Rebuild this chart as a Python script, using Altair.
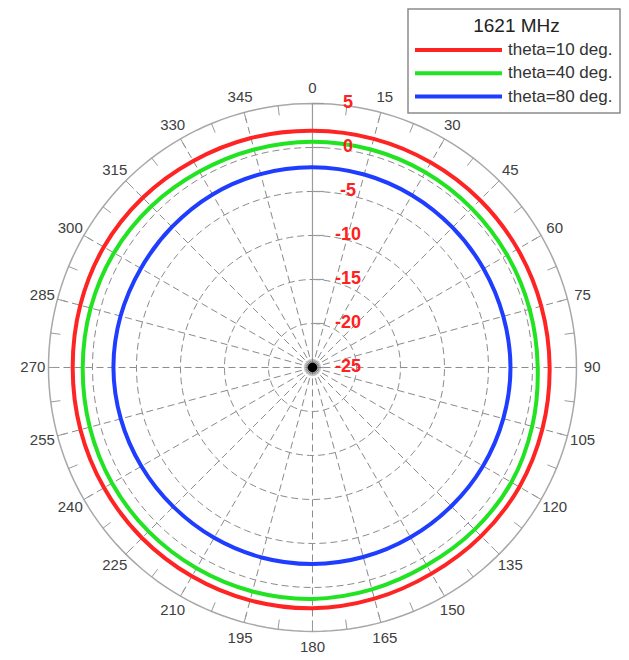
import altair as alt
import pandas as pd
import numpy as np

# ---------------- data ----------------
angles = [0, 15, 30, 45, 60, 75, 90, 105, 120, 135, 150, 165,
          180, 195, 210, 225, 240, 255, 270, 285, 300, 315, 330, 345]
red_db = [1.90, 1.90, 1.90, 1.92, 1.92, 1.92, 1.95, 2.05, 2.15, 2.10, 2.05, 2.20,
          2.36, 2.40, 2.40, 2.40, 2.35, 2.30, 2.25, 2.32, 2.38, 2.28, 2.10, 2.00]
green_db = [0.66, 0.65, 0.63, 0.58, 0.55, 0.55, 0.60, 0.85, 1.10, 1.05, 0.95, 1.10,
            1.30, 1.35, 1.35, 1.35, 1.30, 1.20, 1.11, 1.10, 1.05, 0.90, 0.70, 0.65]
blue_db = [-2.25, -2.30, -2.40, -2.50, -2.55, -2.55, -2.50, -2.55, -2.62, -2.70, -2.72, -2.70,
           -2.67, -2.65, -2.65, -2.63, -2.55, -2.45, -2.38, -2.42, -2.48, -2.42, -2.30, -2.25]
series_names = ["theta=10 deg.", "theta=40 deg.", "theta=80 deg."]
series_colors = ["#ff2424", "#22e322", "#1f3dff"]
legend_title = "1621 MHz"

r_min, r_max = -25, 5
ring_levels = [0, -5, -10, -15, -20]
radial_label_values = [5, 0, -5, -10, -15, -20, -25]
angle_label_values = list(range(0, 360, 15))

# ---------------- geometry helpers (scales only) ----------------
SPAN = r_max - r_min  # radial units from centre to outer ring
W, H = 613, 652
XMIN, XMAX = -34.60, 35.06
YMAX = 40.85
YMIN = YMAX - H / 8.8
FONT = "Liberation Sans"

xs = alt.Scale(domain=[XMIN, XMAX], nice=False, zero=False)
ys = alt.Scale(domain=[YMIN, YMAX], nice=False, zero=False)

def X(f, t="Q"):
    return alt.X(f"{f}:{t}", scale=xs, axis=None)

def Y(f, t="Q"):
    return alt.Y(f"{f}:{t}", scale=ys, axis=None)

# ---------------- tables ----------------
curves = pd.DataFrame({
    "series": np.repeat(series_names, len(angles)),
    "angle": angles * 3,
    "db": red_db + green_db + blue_db,
})

grid_angles = list(range(0, 361, 2))
rings = pd.DataFrame([(lv, a) for lv in ring_levels for a in grid_angles],
                     columns=["level", "angle"])
outer = pd.DataFrame({"angle": grid_angles, "level": r_max})
spokes = pd.DataFrame({"angle": list(range(15, 360, 15))})
outer_ticks = pd.DataFrame({"angle": list(np.arange(0, 360, 7.5))})
rad_ticks = pd.DataFrame({"level": radial_label_values})
rad_labels = pd.DataFrame({"level": radial_label_values,
                           "label": [str(v) for v in radial_label_values]})
ang_labels = pd.DataFrame({"angle": angle_label_values,
                           "label": [str(v) for v in angle_label_values]})
centre = pd.DataFrame({"x": [0.0], "y": [0.0]})

polar_x = f"(datum.level - ({r_min})) * sin(datum.angle * PI / 180)"
polar_y = f"(datum.level - ({r_min})) * cos(datum.angle * PI / 180)"

# dashed rings
ring_layer = alt.Chart(rings).transform_calculate(
    x=polar_x, y=polar_y
).mark_line(color="#8a8a8a", strokeWidth=1, strokeDash=[7, 4]).encode(
    x=X("x"), y=Y("y"), detail="level:N", order=alt.Order("angle:Q")
)

# dashed spokes
spoke_layer = alt.Chart(spokes).transform_calculate(
    x0="0", y0="0",
    x1=f"{SPAN} * sin(datum.angle * PI / 180)",
    y1=f"{SPAN} * cos(datum.angle * PI / 180)",
).mark_rule(color="#8a8a8a", strokeWidth=1, strokeDash=[7, 4]).encode(
    x=X("x0"), y=Y("y0"), x2="x1:Q", y2="y1:Q"
)

# outer ring
outer_layer = alt.Chart(outer).transform_calculate(
    x=polar_x, y=polar_y
).mark_line(color="#a8a8a8", strokeWidth=1.5).encode(
    x=X("x"), y=Y("y"), order=alt.Order("angle:Q")
)

# outer ring ticks
otick_layer = alt.Chart(outer_ticks).transform_calculate(
    x0=f"{SPAN} * sin(datum.angle * PI / 180)",
    y0=f"{SPAN} * cos(datum.angle * PI / 180)",
    x1=f"{SPAN - 1.1} * sin(datum.angle * PI / 180)",
    y1=f"{SPAN - 1.1} * cos(datum.angle * PI / 180)",
).mark_rule(color="#9a9a9a", strokeWidth=1).encode(
    x=X("x0"), y=Y("y0"), x2="x1:Q", y2="y1:Q"
)

# radial axis (solid vertical line at 0 deg) and its ticks
axis_layer = alt.Chart(centre).transform_calculate(
    x1="0", y1=f"{SPAN}"
).mark_rule(color="#9a9a9a", strokeWidth=1.2).encode(
    x=X("x"), y=Y("y"), x2="x1:Q", y2="y1:Q"
)
rtick_layer = alt.Chart(rad_ticks).transform_calculate(
    x0="0", x1="1.3", y0=f"datum.level - ({r_min})"
).mark_rule(color="#9a9a9a", strokeWidth=1.2).encode(
    x=X("x0"), y=Y("y0"), x2="x1:Q"
)

# data curves
curve_layer = alt.Chart(curves).transform_calculate(
    x=f"(datum.db - ({r_min})) * sin(datum.angle * PI / 180)",
    y=f"(datum.db - ({r_min})) * cos(datum.angle * PI / 180)",
).mark_line(strokeWidth=4, interpolate="cardinal-closed").encode(
    x=X("x"), y=Y("y"),
    color=alt.Color("series:N", scale=alt.Scale(domain=series_names, range=series_colors), legend=None),
    detail="series:N",
    order=alt.Order("angle:Q"),
)

# centre dot
halo_layer = alt.Chart(centre).mark_point(filled=True, color="#444444", opacity=0.3, size=300).encode(
    x=X("x"), y=Y("y")
)
dot_layer = alt.Chart(centre).mark_point(filled=True, color="#000000", opacity=1, size=90).encode(
    x=X("x"), y=Y("y")
)

# radial labels (red)
rlabel_layer = alt.Chart(rad_labels).transform_calculate(
    x="4.05", y=f"datum.level - ({r_min})"
).mark_text(color="#ff2020", fontSize=18, fontWeight="bold", font=FONT,
            align="center", baseline="middle").encode(
    x=X("x"), y=Y("y"), text="label:N"
)

# angle labels
alabel_layer = alt.Chart(ang_labels).transform_calculate(
    x=f"{SPAN + 1.78} * sin(datum.angle * PI / 180)",
    y=f"{SPAN + 1.78} * cos(datum.angle * PI / 180)",
).mark_text(color="#404040", fontSize=15, font=FONT,
            align="center", baseline="middle").encode(
    x=X("x"), y=Y("y"), text="label:N"
)

# legend (drawn manually)
leg_box = alt.Chart(centre).mark_rect(fill="white", stroke="#8c8c8c", strokeWidth=1.5).encode(
    x=alt.value(400), x2=alt.value(612), y=alt.value(1), y2=alt.value(105)
)
leg_title = alt.Chart(pd.DataFrame({"t": [legend_title]})).mark_text(
    fontSize=19, font=FONT, color="#222222", align="center", baseline="middle"
).encode(x=alt.value(508.5), y=alt.value(18), text="t:N")

legend_layers = [leg_box, leg_title]
for i, (name, col) in enumerate(zip(series_names, series_colors)):
    yy = 42 + i * 23.3
    df = pd.DataFrame({"name": [name]})
    legend_layers.append(
        alt.Chart(df).mark_rule(color=col, strokeWidth=4).encode(
            x=alt.value(407), x2=alt.value(494), y=alt.value(yy))
    )
    legend_layers.append(
        alt.Chart(df).mark_text(fontSize=17, font=FONT, color="#333333",
                                align="left", baseline="middle").encode(
            x=alt.value(500), y=alt.value(yy), text="name:N")
    )

chart = alt.layer(
    ring_layer, spoke_layer, outer_layer, otick_layer, axis_layer, rtick_layer,
    curve_layer, halo_layer, dot_layer, rlabel_layer, alabel_layer,
    *legend_layers
).properties(
    width=W, height=H, autosize="none", padding=0, background="white"
).configure_view(stroke=None)

chart.save("out.html", embed_options={"renderer": "svg", "actions": False})
